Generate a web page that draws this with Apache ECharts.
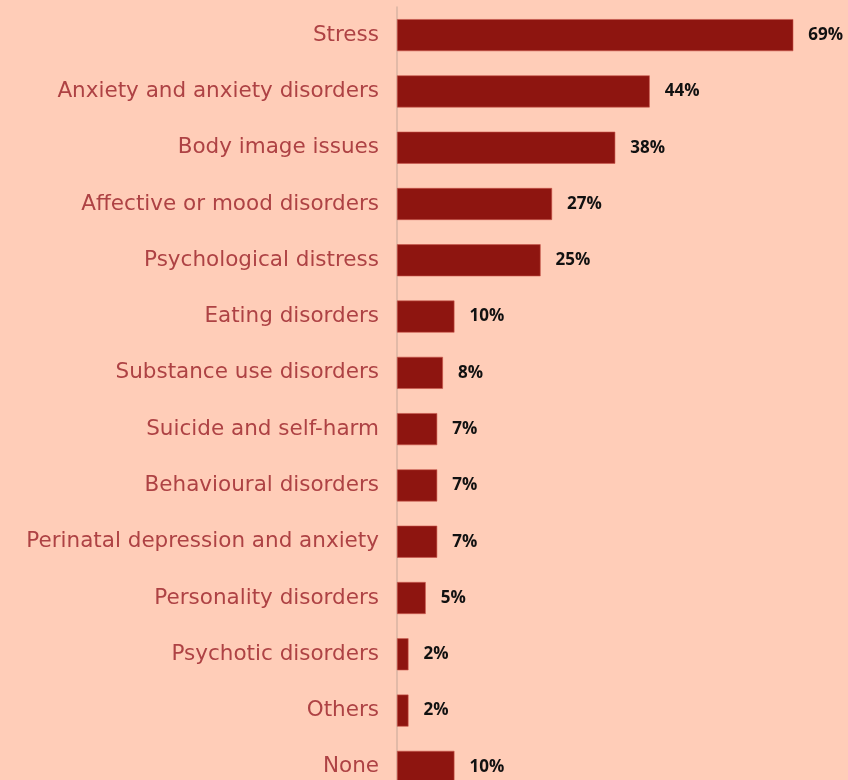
<!DOCTYPE html>
<html>
<head>
<meta charset="utf-8">
<script src="https://cdn.jsdelivr.net/npm/echarts@6/dist/echarts.min.js"></script>
<style>
  html, body { margin: 0; padding: 0; background: #FFCDB8; overflow: hidden; }
  #chart { width: 848px; height: 810px; }
</style>
</head>
<body>
<div id="chart"></div>
<script>
// Share of respondents by mental health concern (%)
const categories = [
  'Stress',
  'Anxiety and anxiety disorders',
  'Body image issues',
  'Affective or mood disorders',
  'Psychological distress',
  'Eating disorders',
  'Substance use disorders',
  'Suicide and self-harm',
  'Behavioural disorders',
  'Perinatal depression and anxiety',
  'Personality disorders',
  'Psychotic disorders',
  'Others',
  'None'
];
const values = [69, 44, 38, 27, 25, 10, 8, 7, 7, 7, 5, 2, 2, 10];

const chart = echarts.init(document.getElementById('chart'), null, { renderer: 'canvas' });

chart.setOption({
  backgroundColor: '#FFCDB8',
  animation: false,
  // the last row runs past the bottom edge of the visible page
  grid: { left: 397, top: 7, width: 448, height: 788, containLabel: false },
  xAxis: {
    type: 'value',
    min: 0,
    max: 78,
    show: false
  },
  yAxis: {
    type: 'category',
    data: categories,
    inverse: true,
    axisLine: { show: true, lineStyle: { color: '#D9B3A3', width: 1.5 } },
    axisTick: { show: false },
    axisLabel: {
      margin: 18,
      color: '#AE4244',
      fontFamily: 'DejaVu Sans',
      fontSize: 21.5,
      fontWeight: 'normal'
    }
  },
  series: [{
    type: 'bar',
    data: values,
    barWidth: 32,
    itemStyle: { color: '#8E1510', borderColor: '#C9554A', borderWidth: 0.6 },
    label: {
      show: true,
      position: 'right',
      distance: 15,
      formatter: '{c}%',
      color: '#111111',
      fontFamily: 'Open Sans',
      fontWeight: 'bold',
      fontSize: 17
    }
  }]
});
</script>
</body>
</html>
